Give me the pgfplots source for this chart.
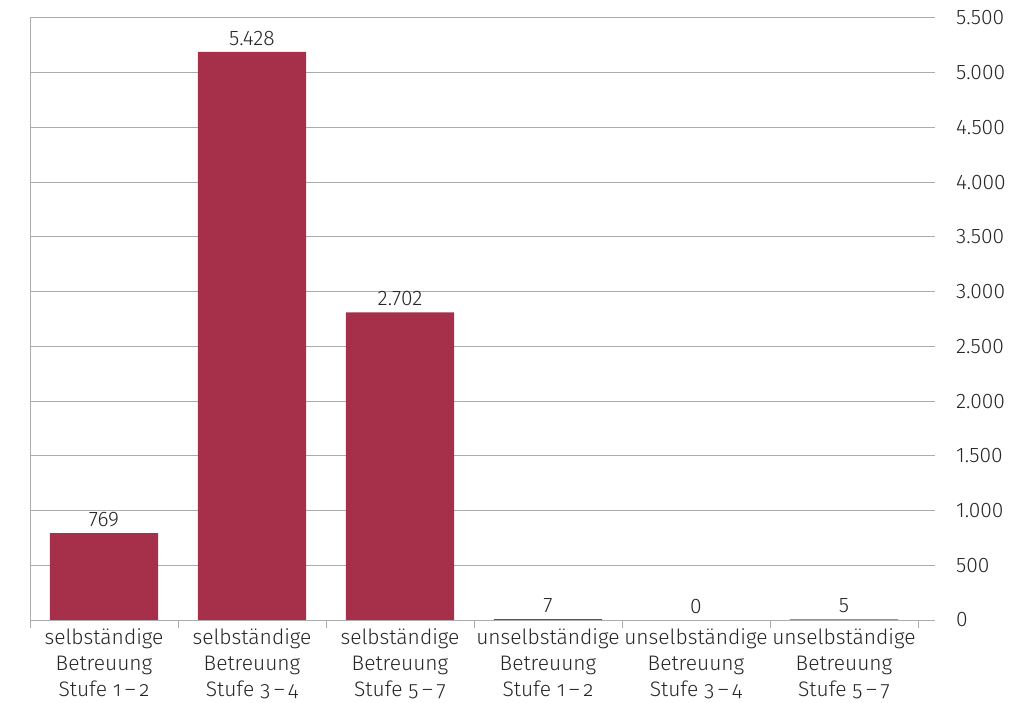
\documentclass[border=0pt]{standalone}
\usepackage{fontspec}
\setmainfont{Fira Sans}[UprightFont=* Light]
\newfontfamily\osf{Fira Sans}[UprightFont=* Light, Numbers=OldStyle]
\usepackage{pgfplots}
\pgfplotsset{compat=1.18}
\definecolor{barred}{RGB}{166,48,74}
\definecolor{gridgray}{RGB}{172,172,172}
\newcommand{\lblfont}{\fontsize{10.5}{13}\selectfont}
\begin{document}
\begin{tikzpicture}
    \begin{axis}[
        scale only axis,
        width=452.5pt, height=301pt,
        ybar, bar width=54pt,
        xmin=-0.5, xmax=5.615,
        ymin=0, ymax=5500,
        ytick={0,500,...,5500},
        yticklabel pos=right,
        xtick pos=lower,
        scaled y ticks=false,
        /pgf/number format/1000 sep={.},
        /pgf/number format/assume math mode=true,
        ymajorgrids,
        grid style={gridgray, line width=0.5pt},
        axis line style={draw=none},
        major tick length=0pt,
        tick align=outside,
        xtick={0,...,5},
        minor xtick={-0.5,0.5,...,5.5},
        minor tick length=4pt,
        minor tick style={gridgray, line width=0.5pt},
        xticklabels={
            {selbständige\\Betreuung\\{\osf Stufe 1\,–\,2}},
            {selbständige\\Betreuung\\{\osf Stufe 3\,–\,4}},
            {selbständige\\Betreuung\\{\osf Stufe 5\,–\,7}},
            {unselbständige\\Betreuung\\{\osf Stufe 1\,–\,2}},
            {unselbständige\\Betreuung\\{\osf Stufe 3\,–\,4}},
            {unselbständige\\Betreuung\\{\osf Stufe 5\,–\,7}}
        },
        xticklabel style={align=center, font=\lblfont, text=black!85, yshift=-1pt},
        yticklabel style={font=\lblfont, text=black!85, anchor=west, xshift=7pt},
        nodes near coords={\pgfplotspointmeta},
        point meta=explicit symbolic,
        every node near coord/.append style={font=\lblfont, text=black!85, inner sep=3pt},
    ]
        \addplot[fill=barred, draw=none]
            coordinates {
                (0,794) [769]
                (1,5190) [5.428]
                (2,2810) [2.702]
                (3,7) [7]
                (4,0) [0]
                (5,5) [5]
            };
        \draw[gridgray, line width=0.5pt] (rel axis cs:0,0) -- (rel axis cs:0,1);
        \draw[gridgray, line width=0.5pt] (rel axis cs:0,0) -- (rel axis cs:1,0);
    \end{axis}
    \pgfresetboundingbox
    \path (current axis.south west) ++(-15pt,-41pt) coordinate (bl);
    \path (current axis.north east) ++(41pt,9pt) coordinate (tr);
    \path (bl) rectangle (tr);
\end{tikzpicture}
\end{document}
